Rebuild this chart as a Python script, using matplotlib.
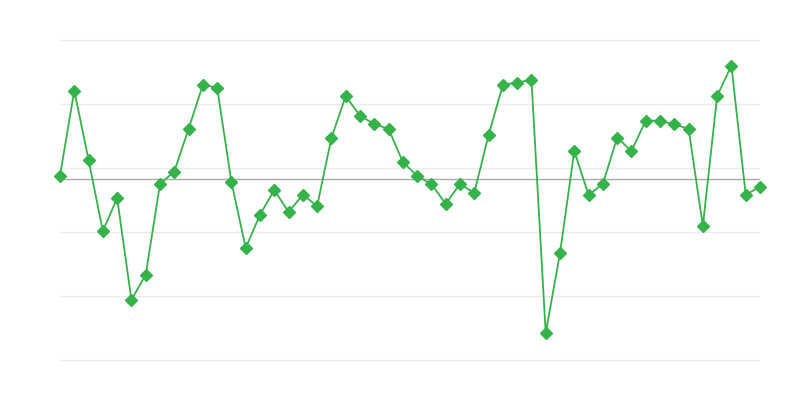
import numpy as np
import matplotlib
matplotlib.use("Agg")
import matplotlib.pyplot as plt

# ================== 数据 ==================
# 网格刻度 0..100，每 20 一条；参考线在 56.5
values = [
    57.6, 84.2, 62.5, 40.3, 50.6, 18.8, 26.6, 55.0, 58.9, 72.2,
    86.0, 85.1, 55.6, 35.0, 45.4, 53.1, 46.3, 51.6, 48.1, 69.4,
    82.5, 76.3, 73.8, 72.2, 61.9, 57.5, 55.0, 48.8, 55.0, 52.2,
    70.3, 86.0, 86.7, 87.6, 8.4, 33.4, 65.3, 51.6, 55.0, 69.5,
    65.3, 74.8, 74.8, 73.6, 72.3, 41.9, 82.5, 92.0, 51.6, 54.2,
]
y_ticks = [0, 20, 40, 60, 80, 100]
BASELINE = 56.5

LINE_COLOR = '#35b24a'

fig = plt.figure(figsize=(8, 4), dpi=100)
# 上下各留 1 个单位，避免边缘网格线被裁掉
pad = 1.0
ax = fig.add_axes([0.075, (40 - pad * 3.2) / 400, 0.875, (320 + 2 * pad * 3.2) / 400])

x = np.arange(len(values))
ax.plot(x, values, color=LINE_COLOR, linewidth=1.3, marker='D', markersize=6,
        markeredgewidth=1.0, markeredgecolor=LINE_COLOR, markerfacecolor=LINE_COLOR,
        clip_on=False, zorder=3)

ax.axhline(BASELINE, color='#aaaaaa', linewidth=1.0, zorder=2)

ax.set_xlim(0, len(values) - 1)
ax.set_ylim(-pad, 100 + pad)
ax.set_yticks(y_ticks)
ax.yaxis.grid(True, color='#ebebeb', linewidth=1.0)
ax.set_axisbelow(True)
ax.tick_params(left=False, bottom=False, labelleft=False, labelbottom=False)
for s in ax.spines.values():
    s.set_visible(False)

fig.savefig('out.png', dpi=100)
